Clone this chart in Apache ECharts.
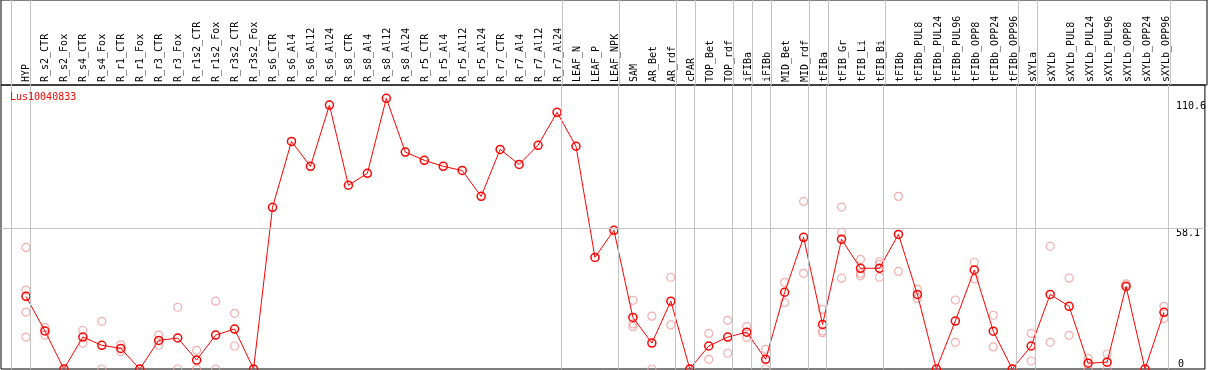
<!DOCTYPE html>
<html>
<head>
<meta charset="utf-8">
<script src="https://cdn.jsdelivr.net/npm/echarts@6/dist/echarts.min.js"></script>
<style>
html,body{margin:0;padding:0;background:#fff;}
#chart{width:1209px;height:370px;}
</style>
</head>
<body>
<div id="chart"></div>
<script>
const geneName = 'Lus10040833';
const categories = ['HYP','R_s2_CTR','R_s2_Fox','R_s4_CTR','R_s4_Fox','R_r1_CTR','R_r1_Fox','R_r3_CTR','R_r3_Fox','R_r1s2_CTR','R_r1s2_Fox','R_r3s2_CTR','R_r3s2_Fox','R_s6_CTR','R_s6_Al4','R_s6_Al12','R_s6_Al24','R_s8_CTR','R_s8_Al4','R_s8_Al12','R_s8_Al24','R_r5_CTR','R_r5_Al4','R_r5_Al12','R_r5_Al24','R_r7_CTR','R_r7_Al4','R_r7_Al12','R_r7_Al24','LEAF_N','LEAF_P','LEAF_NPK','SAM','AR_Bet','AR_rdf','cPAR','TOP_Bet','TOP_rdf','iFIBa','iFIBb','MID_Bet','MID_rdf','tFIBa','tFIB_Gr','tFIB_Li','tFIB_Bi','tFIBb','tFIBb_PUL8','tFIBb_PUL24','tFIBb_PUL96','tFIBb_OPP8','tFIBb_OPP24','tFIBb_OPP96','sXYLa','sXYLb','sXYLb_PUL8','sXYLb_PUL24','sXYLb_PUL96','sXYLb_OPP8','sXYLb_OPP24','sXYLb_OPP96'];
const means = [30.0,15.7,0,13.2,9.8,8.5,0,11.8,12.8,3.7,14.0,16.5,0,
  66.8,94.0,83.7,109.0,75.9,80.8,111.8,89.6,86.2,83.7,82.0,71.3,90.7,84.5,92.4,106.0,92.0,46.1,57.3,
  21.3,10.7,28.0,0,9.5,13.2,15.2,4.0,31.7,54.4,18.4,53.6,41.6,41.6,55.6,30.8,0,19.8,40.9,15.6,0,9.5,30.8,25.9,2.4,2.8,34.1,0,23.4];
const replicates = [
  [50.2,32.6,23.5,13.2],[17.1,14.0],[0],[16.0,10.6],[19.7,0],[10.0,7.2],[0],[14.0,9.8],[25.5,0],[7.7,0],[28.0,0],[23.0,9.5],[0],
  [],[],[],[],[],[],[],[],[],[],[],[],[],[],[],[],[],[],[],
  [28.4,18.6,17.5],[21.8,0],[37.9,18.2],[0],[14.7,4.0],[20.1,6.5],[17.5,13.1],[8.1,0],[35.8,27.5],[69.2,39.5],[24.6,15.7,15.0],
  [66.9,56.4,37.5],[45.3,39.5,38.5],[44.3,43.2,37.9],[71.3,40.3],[32.9,29.2],[0],[28.5,11.0],[44.1,37.2],[22.2,9.1],[0],
  [14.7,3.3],[50.7,11.0],[37.5,13.9],[4.4,0],[6.2,0],[35.2,34.7],[0],[25.9,20.9]
];
const groupEnds = [-1,0,28,31,34,35,37,38,39,41,42,45,52,53,60];
const yTickLabels = [58.1, 110.6];
const yZeroLabel = [0];
const refLine = 58.1;

const FONT = 'DejaVu Sans Mono';
const idx = categories.map((c,i)=>i);
const XMIN = -25/19, XMAX = XMIN + 1206/19;
const YMAX = 117.3;
const meanData = means.map((v,i)=>[i,v]);
const repData = [];
replicates.forEach((arr,i)=>arr.forEach(v=>repData.push([i,v])));
const sepLines = groupEnds.map(i=>({xAxis: i + 0.22}));
const greyLine = {color:'#c4c4c4', width:1, type:'solid'};

const chart = echarts.init(document.getElementById('chart'), null, {renderer:'canvas'});
chart.setOption({
  animation:false,
  backgroundColor:'#fff',
  title:{text:geneName, left:5, top:87, textStyle:{color:'#ff0000', fontSize:10, fontWeight:'normal', fontFamily:FONT}},
  grid:[
    {left:1, right:2, top:0, height:85, show:true, borderColor:'#000', borderWidth:1, backgroundColor:'transparent'},
    {left:1, right:2, top:85, bottom:1, show:true, borderColor:'#000', borderWidth:1, backgroundColor:'transparent'}
  ],
  xAxis:[
    {gridIndex:0, type:'value', min:XMIN, max:XMAX, position:'bottom',
     axisLine:{show:false}, axisTick:{show:false}, splitLine:{show:false},
     axisLabel:{inside:true, rotate:90, margin:3, customValues:idx, fontFamily:FONT, fontSize:10, color:'#000',
       formatter:v=>categories[Math.round(v)]}},
    {gridIndex:1, type:'value', min:XMIN, max:XMAX, show:false, splitLine:{show:false}}
  ],
  yAxis:[
    {gridIndex:0, type:'value', min:0, max:1, show:false},
    {gridIndex:1, type:'value', min:0, max:YMAX, position:'right',
     axisLine:{show:false}, axisTick:{show:false}, splitLine:{show:false},
     axisLabel:{inside:true, align:'left', margin:29, verticalAlign:'top', customValues:yTickLabels,
       fontFamily:FONT, fontSize:10, color:'#000', formatter:v=>String(v)}},
    {gridIndex:1, type:'value', min:0, max:YMAX, position:'right',
     axisLine:{show:false}, axisTick:{show:false}, splitLine:{show:false},
     axisLabel:{inside:true, align:'left', margin:27, verticalAlign:'bottom', customValues:yZeroLabel,
       fontFamily:FONT, fontSize:10, color:'#000', formatter:v=>String(v)}}
  ],
  series:[
    {type:'line', xAxisIndex:0, yAxisIndex:0, data:[[XMIN,0]], symbol:'none', lineStyle:{opacity:0}, silent:true,
     markLine:{silent:true, symbol:'none', label:{show:false}, lineStyle:greyLine, data:sepLines}},
    {type:'scatter', xAxisIndex:1, yAxisIndex:1, data:repData, symbol:'circle', symbolSize:8, clip:false, z:2,
     itemStyle:{color:'rgba(0,0,0,0)', borderColor:'#f09a9a', borderWidth:1.2}},
    {type:'line', xAxisIndex:1, yAxisIndex:1, data:meanData, symbol:'circle', symbolSize:8, clip:false, z:3,
     lineStyle:{color:'#ff0000', width:1},
     itemStyle:{color:'rgba(0,0,0,0)', borderColor:'#ff0000', borderWidth:1.5},
     markLine:{silent:true, symbol:'none', label:{show:false}, lineStyle:greyLine,
       data:sepLines.concat([{yAxis:refLine}])}}
  ]
});
</script>
</body>
</html>
